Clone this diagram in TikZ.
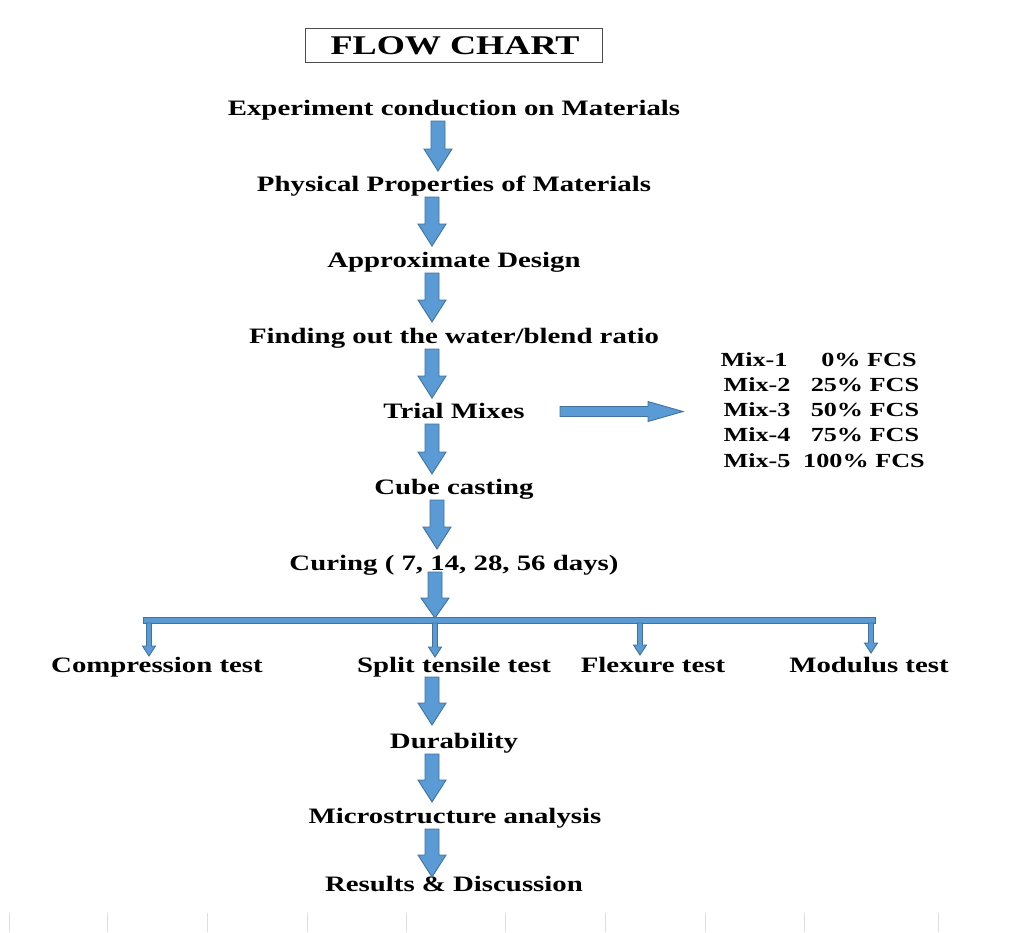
\documentclass[tikz,border=0pt]{standalone}
\usepackage{fontspec}
\newfontfamily\tb{Liberation Serif}[FakeStretch=1.31]
\newfontfamily\tbt{Liberation Serif}[FakeStretch=1.34]
\usetikzlibrary{calc}
\definecolor{afill}{HTML}{5B9BD5}
\definecolor{aline}{HTML}{41719C}
\tikzset{
  lbl/.style={inner sep=0pt, anchor=base, font=\tb\bfseries\fontsize{22}{24}\selectfont},
  mixlbl/.style={inner sep=0pt, anchor=base, font=\tb\bfseries\fontsize{20}{22}\selectfont},
  blk/.style={fill=afill, draw=aline, line width=0.9pt, line join=miter},
}
% big down arrow: x, ytop, ytip
\newcommand\bigdown[3]{%
  \filldraw[blk] ({#1-7},#2) -- ({#1+7},#2) -- ({#1+7},{#3-22}) -- ({#1+14},{#3-22})
    -- (#1,#3) -- ({#1-14},{#3-22}) -- ({#1-7},{#3-22}) -- cycle;}
% small down arrow: x, ytop, ytip
\newcommand\smalldown[3]{%
  \filldraw[blk] ({#1-2.5},#2) -- ({#1+2.5},#2) -- ({#1+2.5},{#3-10}) -- ({#1+6.5},{#3-10})
    -- (#1,#3) -- ({#1-6.5},{#3-10}) -- ({#1-2.5},{#3-10}) -- cycle;}
\begin{document}
\begin{tikzpicture}[x=1pt,y=-1pt]
\useasboundingbox (0,0) rectangle (1022,932);
\fill[white] (0,0) rectangle (1022,932);

% title
\draw[draw=black!70, line width=0.8pt] (305,28) rectangle (602,62);
\node[inner sep=0pt, anchor=base, font=\tbt\bfseries\fontsize{27}{29}\selectfont] (title) at (455,54) {FLOW CHART};

% main steps
\node[lbl] (exp)   at (454,115) {Experiment conduction on Materials};
\node[lbl] (phys)  at (454,191) {Physical Properties of Materials};
\node[lbl] (appr)  at (454,267) {Approximate Design};
\node[lbl] (find)  at (454,343) {Finding out the water/blend ratio};
\node[lbl] (trial) at (454,418) {Trial Mixes};
\node[lbl] (cube)  at (454,494) {Cube casting};
\node[lbl] (cur)   at (454,570) {Curing ( 7, 14, 28, 56 days)};
\node[lbl] (comp)  at (157,672) {Compression test};
\node[lbl] (split) at (454,672) {Split tensile test};
\node[lbl] (flex)  at (653,672) {Flexure test};
\node[lbl] (mod)   at (869,672) {Modulus test};
\node[lbl] (dur)   at (454,748) {Durability};
\node[lbl] (micro) at (455,823) {Microstructure analysis};
\node[lbl] (res)   at (454,891) {Results \& Discussion};

% mix list
\node[mixlbl] (m1) at (754,366) {Mix-1};
\node[mixlbl] (m2) at (757,391) {Mix-2};
\node[mixlbl] (m3) at (757,416) {Mix-3};
\node[mixlbl] (m4) at (757,441) {Mix-4};
\node[mixlbl] (m5) at (757,467) {Mix-5};
\node[mixlbl] (f1) at (869,366) {0\% FCS};
\node[mixlbl] (f2) at (865,391) {25\% FCS};
\node[mixlbl] (f3) at (865,416) {50\% FCS};
\node[mixlbl] (f4) at (865,441) {75\% FCS};
\node[mixlbl] (f5) at (864,467) {100\% FCS};

% vertical arrows
\bigdown{438}{121}{171}
\bigdown{432}{197}{246}
\bigdown{432}{273}{322}
\bigdown{432}{349}{398}
\bigdown{432}{424}{474}
\bigdown{437}{500}{549}
\filldraw[blk] (428,572) -- (442,572) -- (442,598) -- (449,598) -- (435,618) -- (421,598) -- (428,598) -- cycle;
\bigdown{432}{677}{725}
\bigdown{432}{754}{802}
\bigdown{432}{829}{877}

% right arrow from trial mixes
\filldraw[blk] (560,406.5) -- (648,406.5) -- (648,401.5) -- (683,411.5) -- (648,421.5) -- (648,416.5) -- (560,416.5) -- cycle;

% distribution bar
\filldraw[blk] (143,617.5) rectangle (875,623);
\smalldown{149}{623}{656}
\smalldown{435}{623}{657}
\smalldown{640}{623}{655}
\smalldown{871}{623}{653}

% faint ticks at bottom
\foreach \xx in {9,107,207,307,406,505,605,705,804,938}
  \draw[black!13, line width=0.7pt] (\xx,913) -- (\xx,932);
\end{tikzpicture}
\end{document}
